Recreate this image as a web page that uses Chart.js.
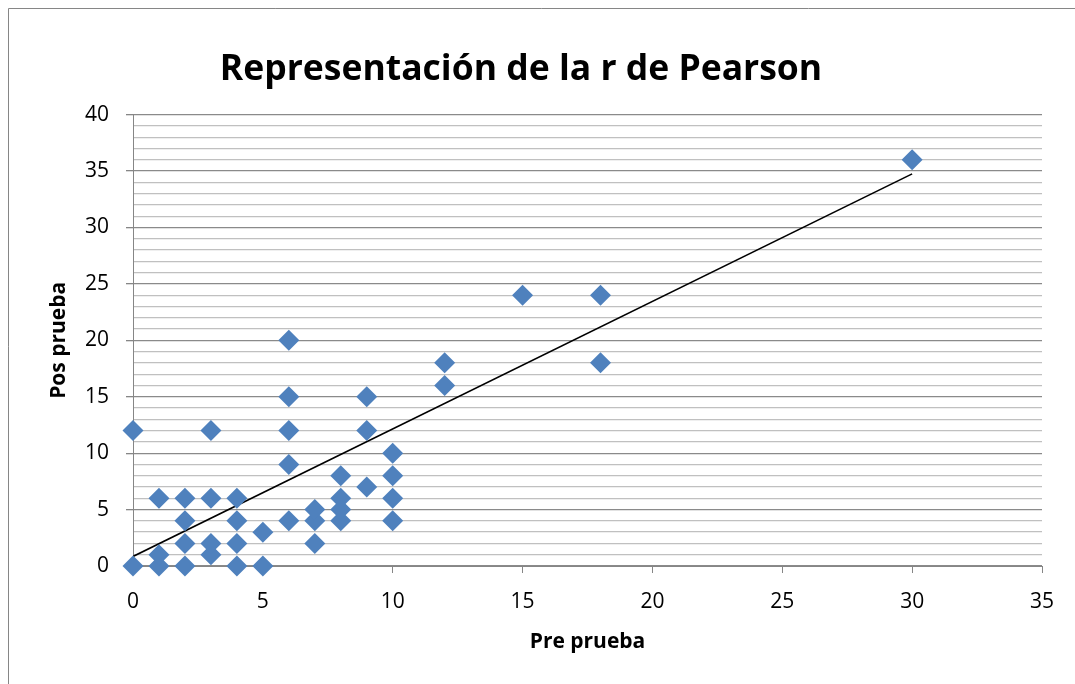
<!DOCTYPE html>
<html>
<head>
<meta charset="utf-8">
<script src="https://cdn.jsdelivr.net/npm/chart.js@4/dist/chart.umd.min.js"></script>
<style>
  html, body { margin: 0; padding: 0; background: #fff; }
  #wrap { width: 1075px; height: 684px; position: relative; }
</style>
</head>
<body>
<div id="wrap"><canvas id="chart"></canvas></div>
<script>
// puntos (pre prueba, pos prueba)
const prePrueba = [0, 0, 1, 1, 1, 2, 2, 2, 2, 3, 3, 3, 3, 4, 4, 4, 4, 5, 5,
                   6, 6, 6, 6, 6, 7, 7, 7, 8, 8, 8, 8, 9, 9, 9, 10, 10, 10, 10,
                   12, 12, 15, 18, 18, 30];
const posPrueba  = [0, 12, 0, 1, 6, 0, 2, 4, 6, 1, 2, 6, 12, 0, 2, 4, 6, 0, 3,
                   4, 9, 12, 15, 20, 2, 4, 5, 4, 5, 6, 8, 7, 12, 15, 4, 6, 8, 10,
                   16, 18, 24, 18, 24, 36];

// linea de tendencia (extremos)
const trendX = [0, 30];
const trendY = [0.85, 34.75];

const xTicks = [0, 5, 10, 15, 20, 25, 30, 35];
const yMajorStep = 5;

const fontFam = '"Open Sans", Lato, sans-serif';

const points = prePrueba.map((x, i) => ({ x: x, y: posPrueba[i] }));
const trend = trendX.map((x, i) => ({ x: x, y: trendY[i] }));

const framePlugin = {
    id: 'frame',
    beforeDraw(chart) {
        const ctx = chart.ctx;
        ctx.save();
        ctx.fillStyle = '#fff';
        ctx.fillRect(0, 0, chart.width, chart.height);
        ctx.strokeStyle = '#868686';
        ctx.lineWidth = 1;
        ctx.beginPath();
        ctx.moveTo(8.5, chart.height);
        ctx.lineTo(8.5, 8.5);
        ctx.lineTo(chart.width, 8.5);
        ctx.stroke();
        ctx.restore();
    }
};

new Chart(document.getElementById('chart'), {
    type: 'scatter',
    data: {
        datasets: [{
            label: 'Pos prueba',
            data: points,
            pointStyle: 'rectRot',
            pointRadius: 10.5,
            pointHoverRadius: 10.5,
            backgroundColor: '#4f81bd',
            borderColor: '#4f81bd',
            borderWidth: 0,
            clip: false,
            order: 1
        }, {
            label: 'Tendencia',
            type: 'line',
            data: trend,
            showLine: true,
            borderColor: '#000',
            borderWidth: 1.6,
            pointRadius: 0,
            fill: false,
            order: 2
        }]
    },
    options: {
        responsive: true,
        maintainAspectRatio: false,
        animation: false,
        layout: { padding: { left: 0, right: 33, top: 0, bottom: 0 } },
        plugins: {
            legend: { display: false },
            tooltip: { enabled: false },
            title: {
                display: true,
                text: 'Representación de la r de Pearson',
                color: '#000',
                font: { family: fontFam, size: 35.5, weight: 'bold' },
                padding: { top: 49, bottom: 23 }
            }
        },
        scales: {
            x: {
                type: 'linear',
                min: 0,
                max: 35,
                afterBuildTicks(scale) {
                    scale.ticks = xTicks.map(v => ({ value: v }));
                },
                afterFit(scale) { scale.height = 118; },
                grid: { drawOnChartArea: false, tickLength: 7, color: '#868686', tickColor: '#868686' },
                border: { color: '#868686', width: 1 },
                ticks: {
                    color: '#000',
                    padding: 16,
                    font: { family: fontFam, size: 21 }
                },
                title: {
                    display: true,
                    text: 'Pre prueba',
                    color: '#000',
                    font: { family: fontFam, size: 21, weight: 'bold' },
                    padding: { top: 0, bottom: 29 }
                }
            },
            y: {
                type: 'linear',
                min: 0,
                max: 40,
                afterFit(scale) { scale.width = 133; },
                grid: {
                    tickLength: 7,
                    lineWidth: 1.3,
                    color: c => (c.tick && c.tick.value % yMajorStep === 0) ? '#8a8a8a' : '#c0c0c0',
                    tickColor: c => (c.tick && c.tick.value % yMajorStep === 0) ? '#868686' : 'rgba(0,0,0,0)'
                },
                border: { color: '#868686', width: 1 },
                ticks: {
                    stepSize: 1,
                    autoSkip: false,
                    color: '#000',
                    padding: 17,
                    font: { family: fontFam, size: 21 },
                    callback: v => (v % yMajorStep === 0 ? v : '')
                },
                title: {
                    display: true,
                    text: 'Pos prueba',
                    color: '#000',
                    font: { family: fontFam, size: 21, weight: 'bold' },
                    padding: { top: 46, bottom: 0 }
                }
            }
        }
    },
    plugins: [framePlugin]
});
</script>
</body>
</html>
